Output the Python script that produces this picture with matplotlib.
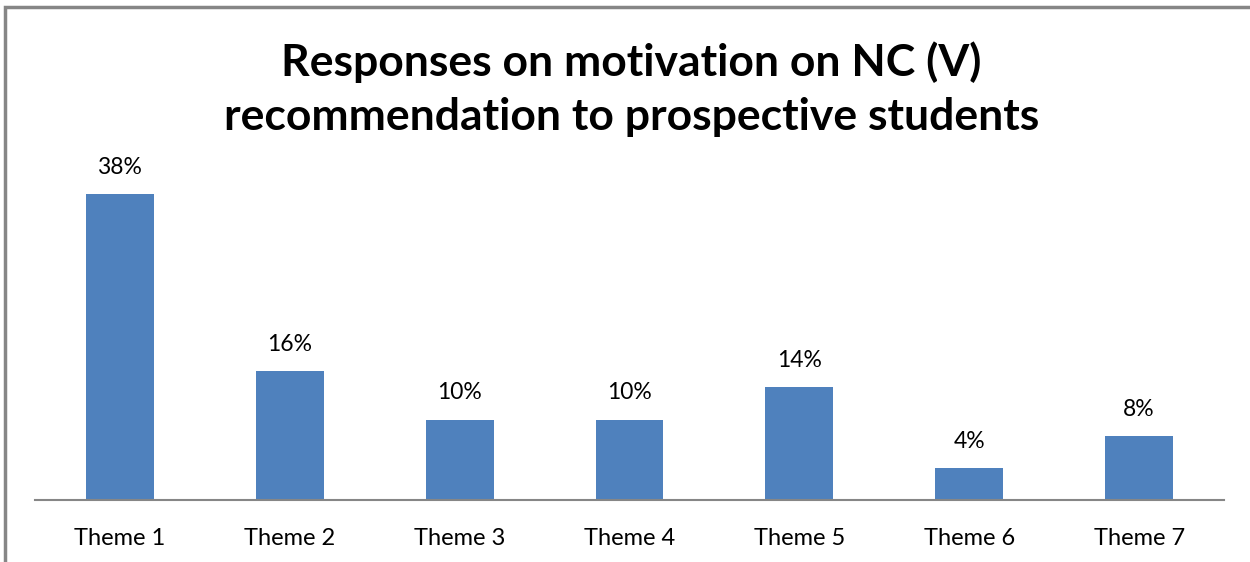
import matplotlib.pyplot as plt
from matplotlib.patches import Rectangle

themes = ['Theme 1', 'Theme 2', 'Theme 3', 'Theme 4', 'Theme 5', 'Theme 6', 'Theme 7']
shares = [38, 16, 10, 10, 14, 4, 8]

plt.rcParams['font.family'] = ['Lato', 'DejaVu Sans']

fig = plt.figure(figsize=(12.5, 5.62), dpi=100)
# chart frame, cut off at right and bottom like the reference
fig.patches.append(Rectangle((5 / 1250, -0.1), 1.2, 1.1 - 7 / 562,
                             transform=fig.transFigure, fill=False,
                             edgecolor='#868686', linewidth=2.5))

ax = fig.add_axes([35 / 1250, 62 / 562, 1189 / 1250, 350 / 562])
x = range(len(themes))
bars = ax.bar(x, shares, width=0.4, color='#4F81BD')
for b, v in zip(bars, shares):
    ax.text(b.get_x() + b.get_width() / 2, v + 3.3, f'{v}%',
            ha='center', va='center', fontsize=16.5)

ax.set_xlim(-0.5, len(themes) - 0.5)
ax.set_ylim(0, 350 / 8.05)
ax.set_xticks(list(x))
ax.set_xticklabels(themes, fontsize=17)
ax.tick_params(axis='x', length=0, pad=20)
ax.set_yticks([])
for s in ['top', 'right', 'left']:
    ax.spines[s].set_visible(False)
ax.spines['bottom'].set_color('#868686')
ax.spines['bottom'].set_linewidth(1.5)

fig.text(0.505, 1 - 89 / 562,
         'Responses on motivation on NC (V)\nrecommendation to prospective students',
         ha='center', va='center', fontsize=32, fontweight='bold', linespacing=1.42)

fig.savefig('out.png', dpi=100)
